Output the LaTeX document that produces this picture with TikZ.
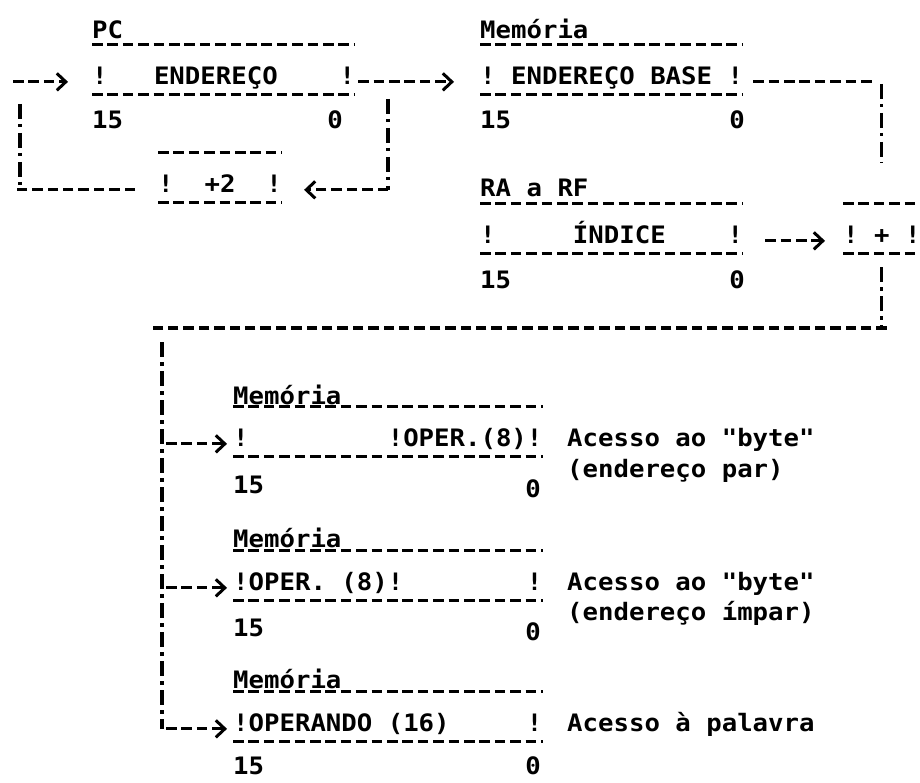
\documentclass[tikz,border=0pt]{standalone}
\usepackage{fontspec}
\newfontfamily\typefont{DejaVu Sans Mono}[FakeStretch=1.07]
\usetikzlibrary{arrows.meta, positioning}
\tikzset{
  typed/.style={
    font=\fontsize{24}{28}\typefont\bfseries, inner sep=0pt, anchor=base west
  },
  dashline/.style={
    line width=3.2pt, dash pattern=on 10.5pt off 4.9pt
  },
  dasharrow/.style={
    dashline, -{Straight Barb[length=9pt, width=17pt, line width=3pt]}
  },
  bangline/.style={
    line width=3.2pt, dash pattern=on 15pt off 5pt on 3.5pt off 5.5pt
  },
  regrow/.style={
    typed, text height=39pt, text depth=10pt,
    append after command={
      (\tikzlastnode.north west) edge[dashline] (\tikzlastnode.north east)
      (\tikzlastnode.south west) edge[dashline] (\tikzlastnode.south east)
    }
  },
}
\begin{document}
\begin{tikzpicture}[x=1pt, y=-1pt]
  \useasboundingbox (0,0) rectangle (920,782);

  % PC and the +2 loop
  \node[typed] (pcname) at (92,38) {PC};
  \node[regrow] (pc) at (92,84) {!\ \ \ ENDEREÇO\ \ \ \ !};
  \node[typed] (pcmsb) at (92,128) {15};
  \node[typed, anchor=base east] (pclsb) at (343,128) {0};
  \node[regrow] (inc) at (158,192) {!\ \ +2\ \ !};

  % Base register in memory
  \node[typed] (memname) at (480,38) {Memória};
  \node[regrow] (base) at (480,84) {!\ ENDEREÇO BASE\ !};
  \node[typed] (basemsb) at (480,128) {15};
  \node[typed, anchor=base east] (baselsb) at (745,128) {0};

  % Index register and adder
  \node[typed] (raname) at (480,196) {RA a RF};
  \node[regrow] (idx) at (480,243) {!\ \ \ \ \ ÍNDICE\ \ \ \ !};
  \node[typed] (idxmsb) at (480,288) {15};
  \node[typed, anchor=base east] (idxlsb) at (745,288) {0};
  \node[regrow] (add) at (843,243) {!\ +\ !};

  % Operand, even byte
  \node[typed] (mem1) at (233,404) {Memória};
  \node[regrow] (op1) at (233,446) {!\ \ \ \ \ \ \ \ \ !OPER.(8)!};
  \node[typed] (op1msb) at (233,493) {15};
  \node[typed, anchor=base east] (op1lsb) at (541,497) {0};
  \node[typed] (acc1) at (567,446) {Acesso ao "byte"};
  \node[typed] (acc1b) at (567,477) {(endereço par)};

  % Operand, odd byte
  \node[typed] (mem2) at (233,547) {Memória};
  \node[regrow] (op2) at (233,590) {!OPER.\ (8)!\ \ \ \ \ \ \ \ !};
  \node[typed] (op2msb) at (233,636) {15};
  \node[typed, anchor=base east] (op2lsb) at (541,640) {0};
  \node[typed] (acc2) at (567,590) {Acesso ao "byte"};
  \node[typed] (acc2b) at (567,620) {(endereço ímpar)};

  % Operand, word
  \node[typed] (mem3) at (233,688) {Memória};
  \node[regrow] (op3) at (233,731) {!OPERANDO\ (16)\ \ \ \ \ !};
  \node[typed] (op3msb) at (233,774) {15};
  \node[typed, anchor=base east] (op3lsb) at (541,774) {0};
  \node[typed] (acc3) at (567,731) {Acesso à palavra};

  % Connectors
  \coordinate (loopx) at (20,0);
  \coordinate (backx) at (388,0);
  \coordinate (tapx) at (162,0);
  \coordinate (busy) at (0,328);

  \draw[dasharrow, shorten <=3pt, shorten >=26pt] (pc.mid east) -- (base.mid west);
  \draw[bangline, shorten <=17pt] (pc.mid east -| backx) -- (inc.mid east -| backx);
  \draw[dasharrow, shorten >=22pt] (inc.mid east -| backx) -- (inc.mid east);
  \draw[dashline, shorten <=23pt, shorten >=-5pt] (inc.mid west) -- (inc.mid west -| loopx);
  \draw[bangline, shorten <=22pt] (pc.mid west -| loopx) -- (inc.mid west -| loopx);
  \draw[dasharrow, shorten <=-7pt, shorten >=24pt] (pc.mid west -| loopx) -- (pc.mid west);

  \draw[dashline, shorten <=10pt, shorten >=10pt] (base.mid east) -- (base.mid east -| add.north);
  \draw[bangline, shorten <=2pt, shorten >=41pt] (base.mid east -| add.north) -- (add.north);
  \draw[dasharrow, shorten <=22pt, shorten >=18pt] (idx.mid east) -- (add.mid west);

  \draw[bangline, shorten <=14pt] (add.south) -- (add.south |- busy);
  \draw[dashline, shorten <=-5pt, shorten >=-10pt] (add.south |- busy) -- (tapx |- busy);
  \draw[bangline, shorten <=14pt] (tapx |- busy) -- (tapx |- op3.mid west);
  \draw[dasharrow, shorten <=4pt, shorten >=6pt] (tapx |- op1.mid west) -- (op1.mid west);
  \draw[dasharrow, shorten <=4pt, shorten >=6pt] (tapx |- op2.mid west) -- (op2.mid west);
  \draw[dasharrow, shorten <=4pt, shorten >=6pt] (tapx |- op3.mid west) -- (op3.mid west);
\end{tikzpicture}
\end{document}
